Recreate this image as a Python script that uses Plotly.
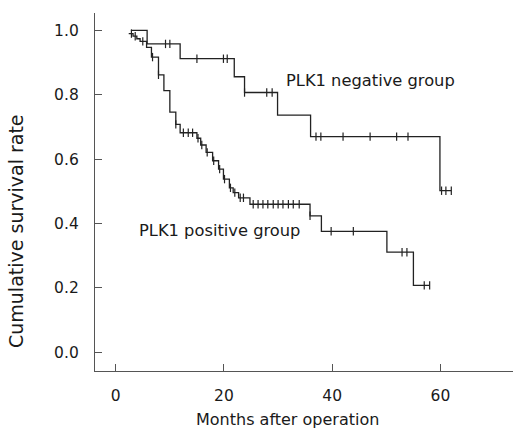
import plotly.graph_objects as go

# Kaplan-Meier step data (months, cumulative survival)
neg_times = [2.8, 5.8, 11.9, 21.9, 23.8, 29.9, 36.0, 59.9]
neg_surv = [1.000, 0.958, 0.912, 0.856, 0.807, 0.737, 0.670, 0.502]
neg_censor = [9.2, 10.0, 15.0, 19.9, 20.6, 23.8, 27.9, 28.9, 37.0, 37.9, 42.0,
              47.0, 51.9, 54.0, 60.2, 61.0, 62.0]

pos_times = [2.4, 3.2, 3.9, 4.5, 5.7, 6.6, 7.9, 8.9, 10.0, 11.1, 11.9, 15.0, 15.7,
             16.7, 17.9, 19.0, 19.9, 21.0, 21.7, 22.7, 24.8, 35.9, 38.0, 50.1, 55.0]
pos_surv = [0.990, 0.982, 0.974, 0.966, 0.947, 0.917, 0.862, 0.813, 0.746, 0.708,
            0.682, 0.665, 0.644, 0.621, 0.595, 0.569, 0.538, 0.511, 0.496, 0.480,
            0.460, 0.424, 0.376, 0.311, 0.208]
pos_censor = [2.9, 3.6, 5.0, 6.8, 7.9, 11.1, 12.5, 13.4, 14.2, 15.2, 15.9, 16.9,
              18.1, 19.2, 20.1, 21.2, 22.0, 23.0, 23.6, 25.4, 26.3, 27.2, 28.1,
              29.1, 30.0, 30.9, 31.9, 32.8, 33.9, 35.9, 39.8, 43.9, 52.9, 53.8,
              57.0, 58.0]

x_ticks = [0, 20, 40, 60]
y_ticks = [0.0, 0.2, 0.4, 0.6, 0.8, 1.0]
y_tick_text = ["0.0", "0.2", "0.4", "0.6", "0.8", "1.0"]

labels = ["PLK1 negative group", "PLK1 positive group"]
x_title = "Months after operation"
y_title = "Cumulative survival rate"


def surv_at(t, times, surv):
    val = surv[0]
    for ti, si in zip(times, surv):
        if ti <= t + 1e-9:
            val = si
    return val


LINE = "#222222"
AXIS = "#555555"
TXT = "#1a1a1a"
FONT = "DejaVu Sans, Verdana, sans-serif"

fig = go.Figure()
for times, surv, cens in [(neg_times, neg_surv, neg_censor), (pos_times, pos_surv, pos_censor)]:
    end = max(max(cens), times[-1])
    fig.add_trace(go.Scatter(
        x=times + [end], y=surv + [surv[-1]], mode="lines",
        line=dict(shape="hv", color=LINE, width=1.3), showlegend=False,
        hoverinfo="skip"))
    fig.add_trace(go.Scatter(
        x=cens, y=[surv_at(c, times, surv) for c in cens], mode="markers",
        marker=dict(symbol="line-ns", size=6, line=dict(color=LINE, width=1.2)),
        showlegend=False, hoverinfo="skip"))

fig.add_annotation(x=47.1, y=0.844, text=labels[0], showarrow=False,
                   font=dict(family=FONT, size=16.3, color=TXT), xanchor="center", yanchor="middle")
fig.add_annotation(x=19.1, y=0.379, text=labels[1], showarrow=False,
                   font=dict(family=FONT, size=16.3, color=TXT), xanchor="center", yanchor="middle")

# axis titles as paper-positioned annotations
fig.add_annotation(xref="paper", yref="paper", x=(287.5 - 95) / 418, y=-(420 - 371) / 358,
                   text=x_title, showarrow=False, xanchor="center", yanchor="middle",
                   font=dict(family=FONT, size=16, color=TXT))
fig.add_annotation(xref="paper", yref="paper", x=-(95 - 16) / 418, y=(371 - 231) / 358,
                   text=y_title, showarrow=False, xanchor="center", yanchor="middle",
                   textangle=-90, font=dict(family=FONT, size=19, color=TXT))

fig.update_layout(
    width=515, height=430,
    margin=dict(l=95, r=2, t=13, b=59, autoexpand=False),
    plot_bgcolor="white", paper_bgcolor="white",
    font=dict(family=FONT, size=15.5, color=TXT),
    xaxis=dict(range=[-3.83, 73.4], tickvals=x_ticks, ticks="inside", ticklen=7,
               tickcolor=AXIS, showline=True, linecolor=AXIS, linewidth=1.3,
               showgrid=False, zeroline=False, ticklabelstandoff=10,
               tickfont=dict(family=FONT, size=15.5, color=TXT)),
    yaxis=dict(range=[-0.058, 1.054], tickvals=y_ticks, ticktext=y_tick_text,
               ticks="inside", ticklen=7, tickcolor=AXIS, showline=True,
               linecolor=AXIS, linewidth=1.3, showgrid=False, zeroline=False,
               ticklabelstandoff=12,
               tickfont=dict(family=FONT, size=15.5, color=TXT)),
)

fig.write_html("out.html", config={"displayModeBar": False},
               post_script="document.body.style.margin='0';")
